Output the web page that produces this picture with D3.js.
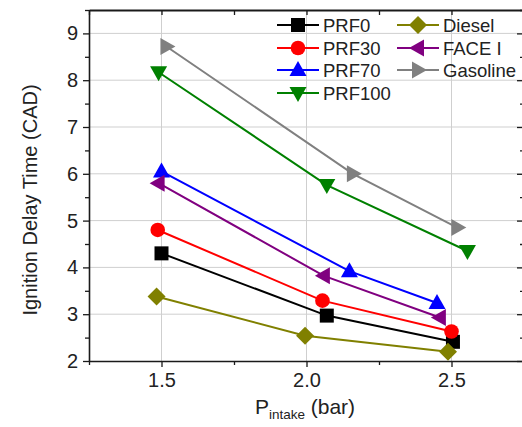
<!DOCTYPE html>
<html><head><meta charset="utf-8">
<script src="https://cdn.jsdelivr.net/npm/d3@7"></script>
<style>body{margin:0;background:#fff;} svg{display:block;font-family:"Liberation Sans",Arial,sans-serif;}</style>
</head><body>
<svg id="c" width="522" height="427"></svg>
<script>
// ---- data ----
const seriesNames = ["PRF0", "PRF30", "PRF70", "PRF100", "Diesel", "FACE I", "Gasoline"];
const seriesColors = ["#000000", "#ff0000", "#0000ff", "#008000", "#808000", "#800080", "#808080"];
const seriesSymbols = ["square", "circle", "triUp", "triDown", "diamond", "triLeft", "triRight"];
const prf0X = [1.50, 2.07, 2.505], prf0Y = [4.30, 2.97, 2.41];
const prf30X = [1.487, 2.055, 2.50], prf30Y = [4.80, 3.29, 2.63];
const prf70X = [1.50, 2.148, 2.45], prf70Y = [6.05, 3.92, 3.24];
const prf100X = [1.49, 2.07, 2.555], prf100Y = [8.17, 5.76, 4.35];
const dieselX = [1.483, 1.995, 2.488], dieselY = [3.38, 2.54, 2.20];
const faceX = [1.49, 2.06, 2.46], faceY = [5.80, 3.82, 2.93];
const gasolineX = [1.517, 2.16, 2.52], gasolineY = [8.72, 6.00, 4.85];
const xTicks = [1.5, 2.0, 2.5];
const xMinorTicks = [1.25, 1.75, 2.25, 2.75];
const yTicks = [2, 3, 4, 5, 6, 7, 8, 9];
const yMinorTicks = [2.5, 3.5, 4.5, 5.5, 6.5, 7.5, 8.5, 9.5];
const xTitle = ["P", "intake", " (bar)"];
const yTitle = "Ignition Delay Time (CAD)";

const seriesX = [prf0X, prf30X, prf70X, prf100X, dieselX, faceX, gasolineX];
const seriesY = [prf0Y, prf30Y, prf70Y, prf100Y, dieselY, faceY, gasolineY];
const series = seriesNames.map((n, i) => ({
  name: n, color: seriesColors[i], sym: seriesSymbols[i],
  pts: seriesX[i].map((x, j) => ({x, y: seriesY[i][j]}))
}));

// ---- layout ----
const L = 89, T = 10, R = 524, B = 361;
const svg = d3.select("#c");
const x = d3.scaleLinear().domain([1.25, 2.75]).range([L, R]);
const y = d3.scaleLinear().domain([2, 9.5]).range([B, T]);
const font = 20;

// grid
const grid = svg.append("g").attr("stroke", "#cfcfcf").attr("stroke-width", 1);
xTicks.forEach(v => grid.append("line").attr("x1", x(v)).attr("x2", x(v)).attr("y1", T).attr("y2", B));
yTicks.filter(v => v > 2).forEach(v => grid.append("line").attr("x1", L).attr("x2", R).attr("y1", y(v)).attr("y2", y(v)));

// axes
const axCol = "#1a1a1a";
function styleAxis(g) {
  g.select(".domain").attr("stroke", axCol).attr("stroke-width", 1.6);
  g.selectAll(".tick line").attr("stroke", axCol).attr("stroke-width", 1.3);
  g.selectAll(".tick text").attr("font-size", font).attr("fill", "#222").attr("font-family", '"Liberation Sans",Arial,sans-serif');
}
const gx = svg.append("g").attr("transform", `translate(0,${B})`)
  .call(d3.axisBottom(x).tickValues(xTicks).tickFormat(d3.format(".1f")).tickSizeInner(6).tickSizeOuter(0).tickPadding(6));
styleAxis(gx);
svg.append("g").attr("transform", `translate(0,${B})`)
  .call(d3.axisBottom(x).tickValues(xMinorTicks).tickFormat("").tickSize(4)).call(g => { g.select(".domain").remove(); g.selectAll("line").attr("stroke", axCol).attr("stroke-width", 1.3); });
const gy = svg.append("g").attr("transform", `translate(${L},0)`)
  .call(d3.axisLeft(y).tickValues(yTicks).tickFormat(d3.format("d")).tickSizeInner(6).tickSizeOuter(0).tickPadding(5));
styleAxis(gy);
svg.append("g").attr("transform", `translate(${L},0)`)
  .call(d3.axisLeft(y).tickValues(yMinorTicks).tickFormat("").tickSize(4)).call(g => { g.select(".domain").remove(); g.selectAll("line").attr("stroke", axCol).attr("stroke-width", 1.3); });
// top axis (inward ticks)
const gt = svg.append("g").attr("transform", `translate(0,${T})`)
  .call(d3.axisBottom(x).tickValues(xTicks.concat(xMinorTicks)).tickFormat("").tickSizeInner(5).tickSizeOuter(0));
gt.select(".domain").attr("stroke", axCol).attr("stroke-width", 2);
gt.selectAll("line").attr("stroke", axCol).attr("stroke-width", 1.3);
// right axis (inward ticks)
const gr = svg.append("g").attr("transform", `translate(${R},0)`)
  .call(d3.axisLeft(y).tickValues(yTicks).tickFormat("").tickSizeInner(7).tickSizeOuter(0));
gr.select(".domain").attr("stroke", axCol).attr("stroke-width", 2);
gr.selectAll("line").attr("stroke", axCol).attr("stroke-width", 1.3);
svg.append("g").attr("transform", `translate(${R},0)`)
  .call(d3.axisLeft(y).tickValues(yMinorTicks).tickFormat("").tickSize(4)).call(g => { g.select(".domain").remove(); g.selectAll("line").attr("stroke", axCol).attr("stroke-width", 1.3); });

// symbols
function symPath(sym) {
  switch (sym) {
    case "square": return "M-7,-7H7V7H-7Z";
    case "circle": return d3.symbol(d3.symbolCircle, Math.PI * 7.3 * 7.3)();
    case "triUp": return "M0,-9L8.5,6L-8.5,6Z";
    case "triDown": return "M0,9L8.5,-6L-8.5,-6Z";
    case "triLeft": return "M-9,0L6,-8.5L6,8.5Z";
    case "triRight": return "M9,0L-6,-8.5L-6,8.5Z";
    case "diamond": return "M0,-9L9,0L0,9L-9,0Z";
  }
}

// lines + markers
const line = d3.line().x(d => x(d.x)).y(d => y(d.y));
series.forEach(s => {
  svg.append("path").datum(s.pts).attr("d", line).attr("fill", "none")
    .attr("stroke", s.color).attr("stroke-width", 2);
});
series.forEach(s => {
  svg.append("g").selectAll("path").data(s.pts).join("path")
    .attr("transform", d => `translate(${x(d.x)},${y(d.y)})`)
    .attr("d", symPath(s.sym)).attr("fill", s.color);
});

// legend
const leg = svg.append("g");
const colX = [277, 397], rowY = [25, 48, 70, 93];
series.forEach((s, i) => {
  const col = i < 4 ? 0 : 1, row = i < 4 ? i : i - 4;
  const x0 = colX[col], yy = rowY[row];
  leg.append("line").attr("x1", x0).attr("x2", x0 + 42).attr("y1", yy).attr("y2", yy)
    .attr("stroke", s.color).attr("stroke-width", 2);
  leg.append("path").attr("transform", `translate(${x0 + 21},${yy})`).attr("d", symPath(s.sym)).attr("fill", s.color);
  leg.append("text").attr("x", x0 + 46).attr("y", yy).attr("dy", "0.36em")
    .attr("font-size", 18.5).attr("fill", "#222").text(s.name);
});

// titles
svg.append("text").attr("transform", "translate(37,200) rotate(-90)")
  .attr("text-anchor", "middle").attr("font-size", 20).attr("fill", "#222").text(yTitle);
const xt = svg.append("text").attr("x", 305).attr("y", 414).attr("text-anchor", "middle")
  .attr("font-size", 21).attr("fill", "#222");
xt.append("tspan").text(xTitle[0]);
xt.append("tspan").attr("font-size", 13.5).attr("dy", 5).text(xTitle[1]);
xt.append("tspan").attr("dy", -5).text(xTitle[2]);
</script>
</body></html>
